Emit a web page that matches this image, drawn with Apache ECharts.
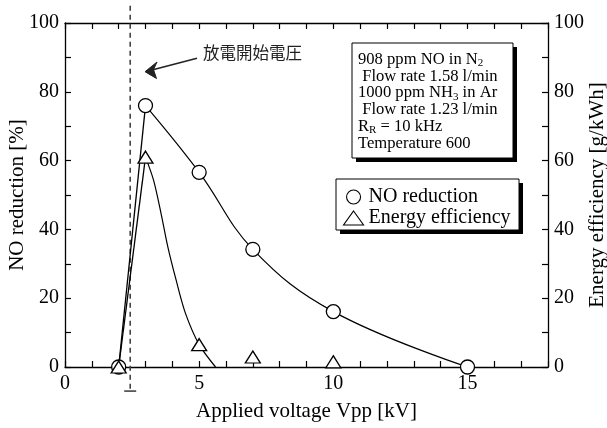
<!DOCTYPE html>
<html><head><meta charset="utf-8">
<script src="https://cdn.jsdelivr.net/npm/echarts@6/dist/echarts.min.js"></script>
<style>html,body{margin:0;padding:0;background:#fff}#c{width:607px;height:428px}</style>
</head><body><div id="c"></div>
<script>
// ---- data ----
const voltageNO = [2, 3, 5, 7, 10, 15];
const noReduction = [0, 76, 56.6, 34.2, 16.1, 0];
const voltageEE = [2, 3, 5, 7, 10];
const energyEfficiency = [0, 61, 6.5, 2.9, 1.5];
// guide curves
const noCurveX = [3, 5, 7, 10, 15];
const noCurveY = [76, 56.6, 34.2, 16.1, 0];
const eeCurveX = [3, 3.3, 3.58, 3.83, 4.14, 4.49, 5, 5.61];
const eeCurveY = [61, 54.3, 44.6, 35, 25.3, 15.6, 6.5, 0];
const onsetVoltage = 2.43;
const xTickLabels = [0, 5, 10, 15];
const yTickLabels = [0, 20, 40, 60, 80, 100];
const infoLines = ['908 ppm NO in N', ' Flow rate 1.58 l/min', '1000 ppm NH', ' Flow rate 1.23 l/min', 'R', 'Temperature 600'];

const pairs = (xs, ys) => xs.map((x, i) => [x, ys[i]]);
const SERIF = '"Liberation Serif", "Times New Roman", serif';
const black = '#000';

const axisCommon = {
  type: 'value', min: 0, max: 100, interval: 10,
  axisLine: { show: true, onZero: false, lineStyle: { color: black, width: 1.3 } },
  axisTick: { show: true, inside: true, length: 6, lineStyle: { color: black, width: 1.2 } },
  splitLine: { show: false },
  nameLocation: 'middle', nameRotate: 90,
  nameTextStyle: { fontFamily: SERIF, fontSize: 21, color: black },
  axisLabel: { fontFamily: SERIF, fontSize: 20, color: black, margin: 6,
    formatter: v => yTickLabels.includes(v) ? String(v) : '' }
};

const chart = echarts.init(document.getElementById('c'));
chart.setOption({
  animation: false,
  backgroundColor: '#fff',
  grid: { left: 65, right: 59, top: 23, bottom: 61, outerBoundsMode: 'none' },
  xAxis: [
    { type: 'value', min: 0, max: 18, interval: 1, position: 'bottom',
      name: 'Applied voltage Vpp [kV]', nameLocation: 'middle', nameGap: 34, nameMoveOverlap: false,
      nameTextStyle: { fontFamily: SERIF, fontSize: 21, color: black },
      axisLine: { onZero: false, lineStyle: { color: black, width: 1.3 } },
      axisTick: { inside: true, length: 6, lineStyle: { color: black, width: 1.2 } },
      splitLine: { show: false },
      axisLabel: { fontFamily: SERIF, fontSize: 20, color: black, margin: 7, showMinLabel: true, showMaxLabel: true,
        formatter: v => xTickLabels.includes(v) ? String(v) : '' } },
    { type: 'value', min: 0, max: 18, interval: 1, position: 'top',
      axisLine: { onZero: false, lineStyle: { color: black, width: 1.3 } },
      axisTick: { inside: true, length: 6, lineStyle: { color: black, width: 1.2 } },
      splitLine: { show: false }, axisLabel: { show: false } }
  ],
  yAxis: [
    Object.assign({}, axisCommon, { position: 'left', name: 'NO reduction [%]', nameGap: 37, nameMoveOverlap: false }),
    Object.assign({}, axisCommon, { position: 'right', name: 'Energy efficiency [g/kWh]', nameGap: 39, nameMoveOverlap: false })
  ],
  legend: {
    orient: 'vertical', left: 343, top: 187, itemWidth: 20, itemHeight: 14, itemGap: 1,
    selectedMode: false, padding: 0, z: 12,
    textStyle: { fontFamily: SERIF, fontSize: 20, color: black },
    itemStyle: { color: '#fff', borderColor: black, borderWidth: 1.1 },
    data: [{ name: 'NO reduction', icon: 'circle' }, { name: 'Energy efficiency', icon: 'triangle' }]
  },
  series: [
    { type: 'line', silent: true, data: pairs(voltageNO.slice(0, 2), noReduction.slice(0, 2)), symbol: 'none',
      lineStyle: { color: black, width: 1.3 }, z: 2 },
    { type: 'line', silent: true, data: pairs(noCurveX, noCurveY), symbol: 'none', smooth: 0.4,
      lineStyle: { color: black, width: 1.2 }, z: 2 },
    { type: 'line', silent: true, yAxisIndex: 1, data: pairs(voltageEE.slice(0, 2), energyEfficiency.slice(0, 2)), symbol: 'none',
      lineStyle: { color: black, width: 1.3 }, z: 2 },
    { type: 'line', silent: true, yAxisIndex: 1, data: pairs(eeCurveX, eeCurveY), symbol: 'none', smooth: 0.3,
      lineStyle: { color: black, width: 1.2 }, z: 2 },
    { name: 'NO reduction', type: 'scatter', data: pairs(voltageNO, noReduction), symbol: 'circle', symbolSize: 14,
      itemStyle: { color: '#fff', borderColor: black, borderWidth: 1.3, opacity: 1 }, z: 5 },
    { name: 'Energy efficiency', type: 'scatter', yAxisIndex: 1, data: pairs(voltageEE, energyEfficiency), symbol: 'triangle', symbolSize: [15, 12],
      itemStyle: { color: '#fff', borderColor: black, borderWidth: 1.3, opacity: 1 }, z: 6 },
    { type: 'custom', silent: true, clip: false, data: [[onsetVoltage, 105, -7]], z: 1,
      renderItem: (params, api) => {
        const t = api.coord([api.value(0), api.value(1)]);
        const b = api.coord([api.value(0), api.value(2)]);
        return { type: 'group', children: [
          { type: 'line', shape: { x1: t[0], y1: t[1], x2: b[0], y2: b[1] }, style: { stroke: '#444', lineWidth: 1.6, lineDash: [5, 4] } },
          { type: 'line', shape: { x1: b[0] - 6, y1: b[1], x2: b[0] + 6, y2: b[1] }, style: { stroke: '#444', lineWidth: 1.6 } }
        ] };
      } }
  ],
  graphic: [
    // info box (shadow + box)
    { type: 'rect', shape: { x: 356, y: 47, width: 161, height: 115 }, z: 9, style: { fill: black } },
    { type: 'rect', shape: { x: 352, y: 43, width: 161, height: 115 }, z: 10,
      style: { fill: '#fff', stroke: black, lineWidth: 1 } },
    { type: 'text', x: 358, y: 51, z: 11,
      style: {
        text: '{a|' + infoLines[0] + '}{s|2}\n{a|' + infoLines[1] + '}\n{a|' + infoLines[2] + '}{s|3}{a| in Ar}\n{a|' + infoLines[3] + '}\n{a|' + infoLines[4] + '}{s|R}{a| = 10 kHz}\n{a|' + infoLines[5] + '}',
        fill: black,
        rich: {
          a: { fontFamily: SERIF, fontSize: 16.6, lineHeight: 16.8, fill: black },
          s: { fontFamily: SERIF, fontSize: 11, lineHeight: 16.8, fill: black, padding: [8, 0, 0, 0] }
        }
      } },
    // legend box (shadow + box)
    { type: 'rect', shape: { x: 340, y: 183, width: 183, height: 51 }, z: 9, style: { fill: black } },
    { type: 'rect', shape: { x: 336, y: 179, width: 183, height: 51 }, z: 10,
      style: { fill: '#fff', stroke: black, lineWidth: 1 } },
    // onset annotation
    { type: 'text', x: 203, y: 53, z: 11,
      style: { text: '放電開始電圧', fontFamily: '"Noto Sans CJK JP", sans-serif', fontSize: 16.5, fill: '#222', verticalAlign: 'middle' } },
    { type: 'line', z: 11, shape: { x1: 197, y1: 58.3, x2: 150, y2: 70.4 }, style: { stroke: '#222', lineWidth: 1.5 } },
    { type: 'polygon', z: 11, shape: { points: [[145, 71.7], [157, 62], [153.5, 69.6], [156.5, 78.5]] }, style: { fill: '#222', stroke: '#222', lineWidth: 1 } }
  ]
});
</script>
</body></html>
